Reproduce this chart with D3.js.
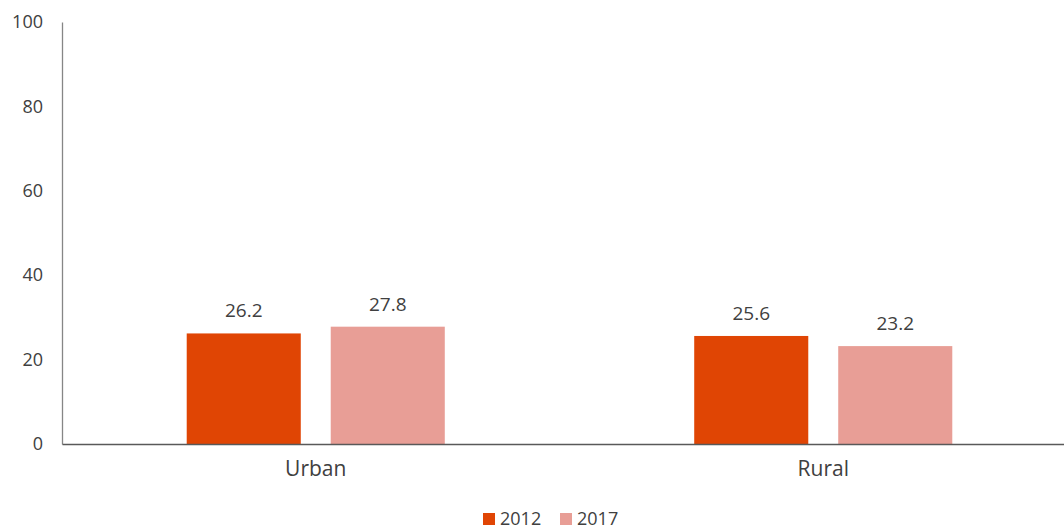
<!DOCTYPE html>
<html>
<head>
<meta charset="utf-8">
<script src="https://cdn.jsdelivr.net/npm/d3@7"></script>
<style>
  body { margin: 0; background: #fff; }
  text { font-family: "Open Sans", "Noto Sans", sans-serif; fill: #404040; }
</style>
</head>
<body>
<div id="chart"></div>
<script>
var categories = ["Urban", "Rural"];
var years = ["2012", "2017"];
var values2012 = [26.2, 25.6];
var values2017 = [27.8, 23.2];
var yTicks = [0, 20, 40, 60, 80, 100];
var colors = ["#e04504", "#e89e96"];

var svgWidth = 1064, svgHeight = 530;
var margin = {top: 22, left: 62, bottom: 86};

var rows = categories.map(function (c, i) {
	return {category: c, values: [values2012[i], values2017[i]]};
});

var svg = d3.select("#chart").append("svg")
	.attr("width", svgWidth)
	.attr("height", svgHeight);

var yScale = d3.scaleLinear()
	.domain([0, 100])
	.range([svgHeight - margin.bottom, margin.top]);

var x0 = d3.scaleBand()
	.domain(categories)
	.range([margin.left, 1077])
	.paddingInner(0)
	.paddingOuter(0);

var x1 = d3.scaleBand()
	.domain(years)
	.range([0, x0.bandwidth()])
	.paddingInner(0.208)
	.paddingOuter(0.866);

// y axis
var yAxis = d3.axisLeft(yScale).tickValues(yTicks).tickSize(0).tickPadding(19);
var yAxisGroup = svg.append("g")
	.attr("transform", "translate(" + margin.left + ",0)")
	.call(yAxis);
yAxisGroup.select(".domain").attr("stroke", "#868686").attr("stroke-width", 1.3);
yAxisGroup.selectAll("text")
	.attr("font-size", 18)
	.style("font-family", "'Open Sans', 'Noto Sans', sans-serif")
	.attr("fill", "#404040");

// bars
var groups = svg.selectAll(".cat")
	.data(rows)
	.enter().append("g")
	.attr("class", "cat")
	.attr("transform", function (d) { return "translate(" + x0(d.category) + ",0)"; });

groups.selectAll("rect")
	.data(function (d) { return d.values.map(function (v, i) { return {year: years[i], value: v, i: i}; }); })
	.enter().append("rect")
	.attr("x", function (d) { return x1(d.year); })
	.attr("y", function (d) { return yScale(d.value); })
	.attr("width", x1.bandwidth())
	.attr("height", function (d) { return yScale(0) - yScale(d.value); })
	.attr("fill", function (d) { return colors[d.i]; });

groups.selectAll(".val")
	.data(function (d) { return d.values.map(function (v, i) { return {year: years[i], value: v}; }); })
	.enter().append("text")
	.attr("class", "val")
	.attr("x", function (d) { return x1(d.year) + x1.bandwidth() / 2; })
	.attr("y", function (d) { return yScale(d.value) - 16; })
	.attr("text-anchor", "middle")
	.attr("font-size", 19)
	.text(function (d) { return d.value.toFixed(1); });

// x axis
var xAxis = d3.axisBottom(x0).tickSize(0).tickPadding(17);
var xAxisGroup = svg.append("g")
	.attr("transform", "translate(0," + yScale(0) + ")")
	.call(xAxis);
xAxisGroup.select(".domain").attr("stroke", "#595959").attr("stroke-width", 1.3);
xAxisGroup.selectAll("text")
	.attr("font-size", 21)
	.style("font-family", "'Open Sans', 'Noto Sans', sans-serif")
	.attr("fill", "#404040");

// legend
var legendX = [483, 560];
var legend = svg.selectAll(".legend")
	.data(years)
	.enter().append("g")
	.attr("class", "legend")
	.attr("transform", function (d, i) { return "translate(" + legendX[i] + ",513)"; });

legend.append("rect")
	.attr("width", 12)
	.attr("height", 12)
	.attr("fill", function (d, i) { return colors[i]; });

legend.append("text")
	.attr("x", 17)
	.attr("y", 12)
	.attr("font-size", 18)
	.text(function (d) { return d; });
</script>
</body>
</html>
